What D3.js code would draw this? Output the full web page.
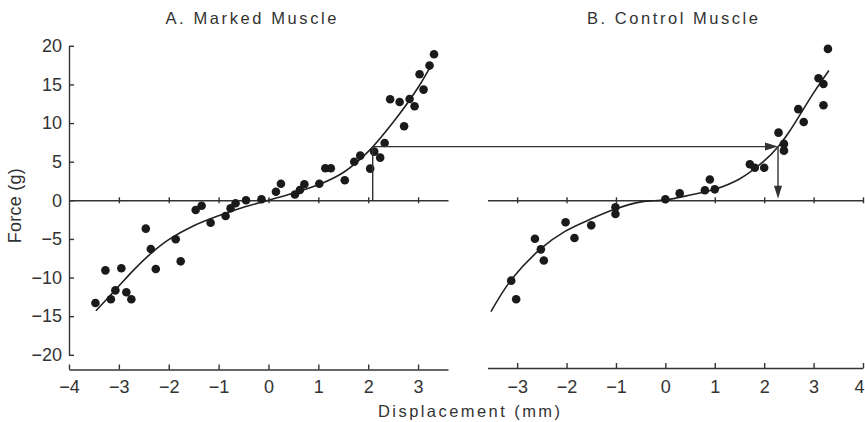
<!DOCTYPE html>
<html>
<head>
<meta charset="utf-8">
<script src="https://cdn.jsdelivr.net/npm/d3@7"></script>
<style>
  body { margin: 0; background: #fff; }
  text { font-family: "Liberation Sans", Arial, sans-serif; fill: #333; }
</style>
</head>
<body>
<div id="chart-area"></div>
<script>

// A. marked muscle: measured points (displacement mm, force g)
var markedX = [-3.47, -3.27, -3.16, -3.07, -2.95, -2.85, -2.75, -2.46, -2.36, -2.26, -1.86, -1.76,
    -1.46, -1.34, -1.16, -0.86, -0.76, -0.66, -0.45, -0.14, 0.15, 0.25, 0.53, 0.63, 0.72, 1.02,
    1.14, 1.25, 1.53, 1.72, 1.84, 2.04, 2.12, 2.24, 2.33, 2.44, 2.63, 2.72, 2.83, 2.93, 3.03,
    3.11, 3.23, 3.32];
var markedF = [-13.3, -9.07, -12.8, -11.66, -8.8, -11.9, -12.8, -3.67, -6.3, -8.9, -5.05, -7.9,
    -1.26, -0.7, -2.9, -2.03, -1.04, -0.39, 0, 0.13, 1.1, 2.15, 0.75, 1.33, 2.07, 2.15,
    4.14, 4.14, 2.59, 5.0, 5.78, 4.1, 6.3, 5.52, 7.42, 13.08, 12.73, 9.58, 13.12, 12.18, 16.32,
    14.33, 17.44, 18.9];

// A. fitted curve
var markedCurveX = [-3.46, -3.07, -2.7, -2.36, -2.0, -1.5, -1.0, -0.5, 0, 0.5, 1.0, 1.5, 2.0, 2.5, 3.0, 3.28];
var markedCurveF = [-14.3, -11.6, -9.0, -6.9, -5.1, -3.3, -2.0, -0.9, 0, 0.95, 2.0, 3.6, 6.3, 10.1, 14.6, 17.7];

// B. control muscle: measured points
var controlX = [-3.12, -3.02, -2.64, -2.52, -2.46, -2.02, -1.84, -1.5, -1.01, -1.01, 0, 0.29,
    0.8, 0.9, 1.0, 1.71, 1.81, 2.0, 2.29, 2.4, 2.4, 2.69, 2.8, 3.1, 3.2, 3.2, 3.29];
var controlF = [-10.4, -12.8, -4.97, -6.35, -7.8, -2.85, -4.88, -3.24, -0.9, -1.77, 0.13, 0.9,
    1.3, 2.7, 1.42, 4.66, 4.22, 4.22, 8.76, 7.3, 6.43, 11.8, 10.14, 15.8, 15.06, 12.3, 19.6];

// B. fitted curve
var controlCurveX = [-3.53, -3.12, -2.51, -2.04, -1.5, -1.0, -0.49, 0, 0.5, 1.0, 1.5, 2.0, 2.29, 2.5, 3.0, 3.31];
var controlCurveF = [-14.4, -10.3, -6.2, -4.06, -2.4, -1.1, -0.2, 0.05, 0.68, 1.42, 2.76, 5.1, 7.0, 8.8, 13.9, 16.8];

// transfer arrow: same force on both curves
var transferForce = 6.95;
var transferMarkedX = 2.09;
var transferControlX = 2.28;

var forceTicks = [-20, -15, -10, -5, 0, 5, 10, 15, 20];
var markedTicks = [-4, -3, -2, -1, 0, 1, 2, 3];
var controlTicks = [-3, -2, -1, 0, 1, 2, 3, 4];

var svg = d3.select("#chart-area")
    .append("svg")
        .attr("width", 865)
        .attr("height", 422)

var xA = d3.scaleLinear().domain([-4, 3.6]).range([69, 448]);
var xB = d3.scaleLinear().domain([-3.6, 4]).range([487.5, 863]);
var y = d3.scaleLinear().domain([-20, 20]).range([354.8, 45.8]);

var ink = "#333";

function styleAxis(g, fontSize) {
    g.selectAll("path, line").attr("stroke", ink).attr("stroke-width", 1.4);
    g.selectAll("text")
        .attr("fill", ink)
        .style("font-family", "'Liberation Sans', Arial, sans-serif")
        .style("font-size", fontSize + "px");
}

// force axis
svg.append("g")
    .attr("transform", "translate(69,0)")
    .call(d3.axisLeft(y).tickValues(forceTicks).tickSizeInner(-5).tickSizeOuter(0).tickPadding(7))
    .call(styleAxis, 18);

// bottom displacement axes
svg.append("g")
    .attr("transform", "translate(0,369.5)")
    .call(d3.axisBottom(xA).tickValues(markedTicks).tickSizeInner(-5).tickSizeOuter(0).tickPadding(11))
    .call(styleAxis, 18);

var bottomB = svg.append("g")
    .attr("transform", "translate(0,368)")
    .call(d3.axisBottom(xB).tickValues(controlTicks).tickSizeInner(-5).tickSizeOuter(0).tickPadding(12))
    .call(styleAxis, 18);

// last label sits at the page edge: keep it inside
bottomB.selectAll(".tick text")
    .filter(function(d) { return d === 4; })
    .attr("text-anchor", "end")
    .attr("dx", 1);

// zero force lines with crossing ticks
[[xA, markedTicks.slice(1)], [xB, controlTicks]].forEach(function(p) {
    var g = svg.append("g")
        .attr("transform", "translate(0," + y(0) + ")")
        .call(d3.axisBottom(p[0]).tickValues(p[1]).tickSizeInner(3).tickSizeOuter(0).tickFormat(""))
        .call(styleAxis, 18);
    g.selectAll(".tick line").attr("y1", -3);
});

// fitted curves
var line = d3.line().curve(d3.curveCatmullRom.alpha(0.5));

svg.append("path")
    .attr("d", line(markedCurveX.map(function(d, i) { return [xA(d), y(markedCurveF[i])]; })))
    .attr("fill", "none")
    .attr("stroke", "#222")
    .attr("stroke-width", 1.6);

svg.append("path")
    .attr("d", line(controlCurveX.map(function(d, i) { return [xB(d), y(controlCurveF[i])]; })))
    .attr("fill", "none")
    .attr("stroke", "#222")
    .attr("stroke-width", 1.6);

// points
svg.selectAll("circle.marked")
    .data(markedX)
    .enter()
    .append("circle")
        .attr("class", "marked")
        .attr("cx", function(d) { return xA(d); })
        .attr("cy", function(d, i) { return y(markedF[i]); })
        .attr("r", 4.3)
        .attr("fill", "#1a1a1a");

svg.selectAll("circle.control")
    .data(controlX)
    .enter()
    .append("circle")
        .attr("class", "control")
        .attr("cx", function(d) { return xB(d); })
        .attr("cy", function(d, i) { return y(controlF[i]); })
        .attr("r", 4.3)
        .attr("fill", "#1a1a1a");

// transfer lines and arrows
var ax = xA(transferMarkedX), bx = xB(transferControlX), fy = y(transferForce), zy = y(0);

svg.append("path")
    .attr("d", "M" + ax + "," + zy + "V" + fy + "H" + (bx - 10) + "M" + bx + "," + fy + "V" + (zy - 10))
    .attr("fill", "none")
    .attr("stroke", ink)
    .attr("stroke-width", 1.4);

svg.append("path")
    .attr("d", "M" + bx + "," + fy + "l-13,-4l0,8z")
    .attr("fill", ink);

svg.append("path")
    .attr("d", "M" + bx + "," + (zy - 1.5) + "l-4,-13l8,0z")
    .attr("fill", ink);

// titles and labels
svg.append("text")
    .attr("x", 251).attr("y", 24)
    .attr("text-anchor", "middle")
    .attr("textLength", 171)
    .style("font-size", "16.5px")
    .text("A. Marked Muscle");

svg.append("text")
    .attr("x", 672.5).attr("y", 24)
    .attr("text-anchor", "middle")
    .attr("textLength", 171)
    .style("font-size", "16.5px")
    .text("B. Control Muscle");

svg.append("text")
    .attr("x", 469).attr("y", 417)
    .attr("text-anchor", "middle")
    .attr("textLength", 182)
    .style("font-size", "16.5px")
    .text("Displacement (mm)");

svg.append("text")
    .attr("transform", "translate(20.7,205.8) rotate(-90)")
    .attr("text-anchor", "middle")
    .attr("textLength", 75)
    .style("font-size", "18px")
    .text("Force (g)");

</script>
</body>
</html>
